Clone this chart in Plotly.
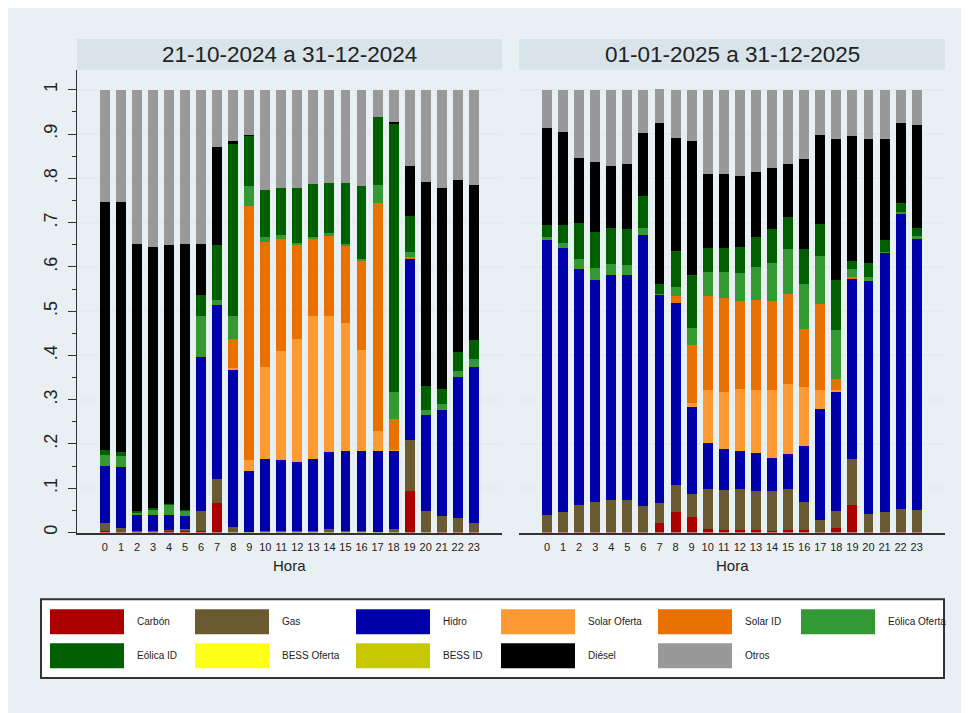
import plotly.graph_objects as go

# ---------------- data ----------------
hours = list(range(24))
panel_titles = ["21-10-2024 a 31-12-2024", "01-01-2025 a 31-12-2025"]
x_title = "Hora"
y_tickvals = [0, 0.1, 0.2, 0.3, 0.4, 0.5, 0.6, 0.7, 0.8, 0.9, 1.0]
y_ticktext = ["0", ".1", ".2", ".3", ".4", ".5", ".6", ".7", ".8", ".9", "1"]

series_names = ["Carbón", "Gas", "Hidro", "Solar Oferta", "Solar ID", "Eólica Oferta",
                "Eólica ID", "BESS Oferta", "BESS ID", "Diésel", "Otros"]
series_colors = ["#aa0000", "#695b2f", "#0000aa", "#ff9933", "#e87100", "#339933",
                 "#006000", "#ffff1a", "#c8c800", "#000000", "#999999"]

# Panel 1: 21-10-2024 a 31-12-2024 (shares by hour)
carbon_2024 = [0.003, 0.001, 0.003, 0.003, 0.005, 0.005, 0.0045, 0.068, 0, 0, 0, 0,
               0, 0, 0, 0, 0, 0, 0, 0.095, 0, 0.002, 0.002, 0.002]
gas_2024 = [0.0195, 0.010, 0.0015, 0.0015, 0.002, 0.004, 0.0455, 0.054, 0.0135, 0.001, 0.0045, 0.0045,
            0.0045, 0.0045, 0.009, 0.0045, 0.0045, 0.001, 0.009, 0.1145, 0.0495, 0.036, 0.032, 0.0205]
hidro_2024 = [0.1285, 0.138, 0.0365, 0.0365, 0.034, 0.028, 0.347, 0.392, 0.3555, 0.139, 0.162, 0.1605,
              0.1555, 0.162, 0.173, 0.1805, 0.1805, 0.184, 0.176, 0.4095, 0.2165, 0.239, 0.317, 0.3515]
solar_oferta_2024 = [0, 0, 0, 0, 0, 0, 0, 0, 0.002, 0.025, 0.208, 0.245,
                     0.277, 0.322, 0.307, 0.288, 0.227, 0.045, 0.002, 0, 0, 0, 0, 0]
solar_id_2024 = [0, 0, 0, 0, 0, 0, 0, 0, 0.067, 0.572, 0.283, 0.254,
                 0.212, 0.175, 0.183, 0.176, 0.203, 0.515, 0.070, 0.003, 0, 0, 0, 0]
eolica_oferta_2024 = [0.025, 0.025, 0.0055, 0.0115, 0.022, 0.014, 0.092, 0.012, 0.051, 0.045, 0.011, 0.009,
                      0.006, 0.005, 0.004, 0.004, 0.004, 0.041, 0.061, 0.013, 0.011, 0.013, 0.014, 0.018]
eolica_id_2024 = [0.011, 0.008, 0.0015, 0.0025, 0.0015, 0.001, 0.049, 0.124, 0.390, 0.114, 0.106, 0.106,
                  0.124, 0.119, 0.114, 0.137, 0.165, 0.153, 0.605, 0.080, 0.054, 0.034, 0.043, 0.043]
bess_oferta_2024 = [0] * 24
bess_id_2024 = [0] * 24
diesel_2024 = [0.559, 0.564, 0.604, 0.590, 0.5845, 0.600, 0.114, 0.222, 0.006, 0.003, 0, 0,
               0, 0, 0, 0, 0, 0, 0.005, 0.114, 0.462, 0.455, 0.389, 0.351]
otros_2024 = [0.254, 0.254, 0.348, 0.355, 0.351, 0.348, 0.348, 0.128, 0.115, 0.101, 0.225, 0.221,
              0.221, 0.212, 0.210, 0.210, 0.216, 0.061, 0.072, 0.171, 0.207, 0.221, 0.203, 0.214]

# Panel 2: 01-01-2025 a 31-12-2025
carbon_2025 = [0.002, 0.002, 0.002, 0.002, 0.001, 0.001, 0.002, 0.0225, 0.047, 0.036, 0.009, 0.007,
               0.007, 0.007, 0.0045, 0.007, 0.007, 0.002, 0.011, 0.063, 0.002, 0.002, 0.002, 0.001]
gas_2025 = [0.0385, 0.045, 0.061, 0.068, 0.0733, 0.0733, 0.059, 0.045, 0.061, 0.052, 0.090, 0.090,
            0.092, 0.0876, 0.090, 0.092, 0.063, 0.027, 0.0385, 0.1037, 0.041, 0.045, 0.052, 0.051]
hidro_2025 = [0.6215, 0.597, 0.532, 0.500, 0.5087, 0.5067, 0.612, 0.4704, 0.410, 0.196, 0.104, 0.092,
              0.086, 0.0854, 0.0744, 0.079, 0.126, 0.250, 0.2705, 0.4073, 0.525, 0.586, 0.667, 0.612]
solar_oferta_2025 = [0, 0, 0, 0, 0, 0, 0, 0, 0, 0.009, 0.119, 0.129,
                     0.139, 0.142, 0.153, 0.158, 0.133, 0.043, 0.002, 0, 0, 0, 0, 0]
solar_id_2025 = [0, 0, 0, 0, 0, 0, 0, 0, 0.016, 0.130, 0.212, 0.211,
                 0.1985, 0.203, 0.2005, 0.204, 0.130, 0.194, 0.025, 0.003, 0, 0, 0, 0]
eolica_oferta_2025 = [0.007, 0.011, 0.024, 0.027, 0.023, 0.023, 0.016, 0.002, 0.022, 0.039, 0.054, 0.059,
                      0.063, 0.075, 0.0875, 0.100, 0.102, 0.108, 0.110, 0.018, 0.009, 0.002, 0.004, 0.007]
eolica_id_2025 = [0.027, 0.039, 0.081, 0.083, 0.083, 0.081, 0.072, 0.021, 0.081, 0.119, 0.054, 0.056,
                  0.0604, 0.067, 0.075, 0.072, 0.079, 0.074, 0.113, 0.018, 0.033, 0.025, 0.020, 0.018]
bess_oferta_2025 = [0] * 24
bess_id_2025 = [0] * 24
diesel_2025 = [0.218, 0.211, 0.147, 0.158, 0.140, 0.148, 0.142, 0.364, 0.255, 0.304, 0.169, 0.167,
               0.160, 0.148, 0.139, 0.121, 0.205, 0.201, 0.320, 0.283, 0.280, 0.230, 0.181, 0.232]
otros_2025 = [0.086, 0.095, 0.153, 0.162, 0.171, 0.167, 0.097, 0.077, 0.108, 0.115, 0.189, 0.189,
              0.194, 0.185, 0.176, 0.167, 0.155, 0.101, 0.110, 0.104, 0.110, 0.110, 0.074, 0.079]

panel_series = [
    [carbon_2024, gas_2024, hidro_2024, solar_oferta_2024, solar_id_2024, eolica_oferta_2024,
     eolica_id_2024, bess_oferta_2024, bess_id_2024, diesel_2024, otros_2024],
    [carbon_2025, gas_2025, hidro_2025, solar_oferta_2025, solar_id_2025, eolica_oferta_2025,
     eolica_id_2025, bess_oferta_2025, bess_id_2025, diesel_2025, otros_2025],
]

# ---------------- layout helpers ----------------
W, H = 969, 713
OFF = 8  # default page margin of the html body


def px(x):
    return (x - OFF) / W


def py(y):
    return 1 - (y - OFF) / H


BG = "#e9f0f3"
STRIP = "#d8e4ea"
GRID = "#e3ecef"
AXIS = "#333333"
TXT = "#222222"
SANS = "Liberation Sans, Arial, sans-serif"

panel_x = [(77, 502), (519, 945)]
plot_top, plot_bottom = 70, 534
strip_top = 39
unit_px = 444.0
y_max = (plot_bottom - plot_top) / unit_px
x_range = [-1.74, 24.76]

fig = go.Figure()

for p, series in enumerate(panel_series):
    xa = "x" if p == 0 else "x2"
    ya = "y" if p == 0 else "y2"
    for name, color, vals in zip(series_names, series_colors, series):
        fig.add_trace(go.Bar(x=hours, y=vals, name=name, marker_color=color,
                             marker_line_width=0, width=0.62, showlegend=False,
                             xaxis=xa, yaxis=ya))

common_x = dict(range=x_range, tickmode="array", tickvals=hours, ticktext=[str(h) for h in hours],
                showgrid=False, zeroline=False, showline=True, linecolor=AXIS, linewidth=1.5,
                ticks="outside", ticklen=4, tickcolor="rgba(0,0,0,0)",
                tickfont=dict(family=SANS, size=11, color=TXT), fixedrange=True)
fig.update_layout(
    xaxis=dict(domain=[px(panel_x[0][0]), px(panel_x[0][1])], anchor="y", **common_x),
    xaxis2=dict(domain=[px(panel_x[1][0]), px(panel_x[1][1])], anchor="y2", **common_x),
    yaxis=dict(domain=[py(plot_bottom), py(plot_top)], range=[0, y_max], anchor="x",
               tickmode="array", tickvals=y_tickvals, ticktext=y_ticktext, tickangle=-90,
               tickfont=dict(family=SANS, size=18, color=TXT),
               ticks="outside", ticklen=8, tickcolor=AXIS, tickwidth=1,
               ticklabelstandoff=4,
               minor=dict(tickmode="array", tickvals=[v + 0.05 for v in y_tickvals[:-1]],
                          ticks="outside", ticklen=4, tickcolor=AXIS, showgrid=False),
               showgrid=True, gridcolor=GRID, gridwidth=1.5, zeroline=False,
               showline=True, linecolor=AXIS, linewidth=1, fixedrange=True),
    yaxis2=dict(domain=[py(plot_bottom), py(plot_top)], range=[0, y_max], anchor="x2",
                tickmode="array", tickvals=y_tickvals, showticklabels=False, ticks="",
                showgrid=True, gridcolor=GRID, gridwidth=1.5, zeroline=False,
                showline=False, fixedrange=True),
    barmode="stack",
    bargap=0,
    width=W, height=H,
    margin=dict(l=0, r=0, t=0, b=0),
    paper_bgcolor="white",
    plot_bgcolor="white",
)

shapes = []
annotations = []
# outer graph background
shapes.append(dict(type="rect", xref="paper", yref="paper", x0=px(5), x1=1, y0=0, y1=py(6),
                   fillcolor=BG, line_width=0, layer="below"))
for p, (x0, x1) in enumerate(panel_x):
    shapes.append(dict(type="rect", xref="paper", yref="paper", x0=px(x0), x1=px(x1),
                       y0=py(plot_top), y1=py(strip_top), fillcolor=STRIP, line_width=0, layer="below"))
    annotations.append(dict(xref="paper", yref="paper", x=px((x0 + x1) / 2), y=py((strip_top + plot_top) / 2),
                            text=panel_titles[p], showarrow=False, xanchor="center", yanchor="middle",
                            font=dict(family=SANS, size=22.5, color=TXT)))
    annotations.append(dict(xref="paper", yref="paper", x=px((x0 + x1) / 2), y=py(567),
                            text=x_title, showarrow=False, xanchor="center", yanchor="middle",
                            font=dict(family=SANS, size=15, color=TXT)))

# legend box
shapes.append(dict(type="rect", xref="paper", yref="paper", x0=px(41), x1=px(944),
                   y0=py(680), y1=py(601), fillcolor="white", line=dict(color="#333333", width=2)))
col_x = [50, 195, 356, 501, 658, 801]
row_y = [(611, 636), (645, 670)]
for i, (name, color) in enumerate(zip(series_names, series_colors)):
    r, c = divmod(i, 6)
    sx = col_x[c]
    y0, y1 = row_y[r]
    shapes.append(dict(type="rect", xref="paper", yref="paper", x0=px(sx), x1=px(sx + 74),
                       y0=py(y1), y1=py(y0), fillcolor=color, line_width=0))
    annotations.append(dict(xref="paper", yref="paper", x=px(sx + 85), y=py((y0 + y1) / 2),
                            text=name, showarrow=False, xanchor="left", yanchor="middle",
                            font=dict(family=SANS, size=10, color=TXT)))

fig.update_layout(shapes=shapes, annotations=annotations)
fig.write_html("out.html")
